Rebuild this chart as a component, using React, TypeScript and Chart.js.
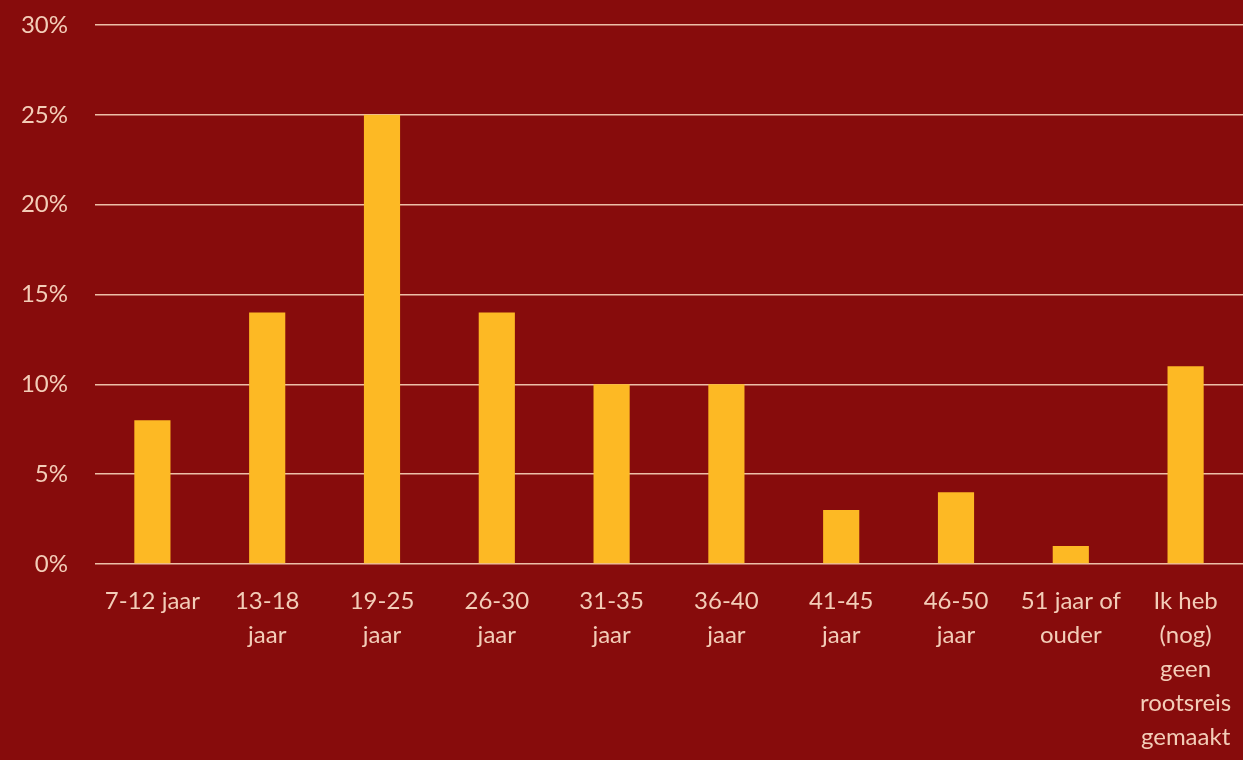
import React, { useEffect, useRef } from "react";
import { Chart, registerables } from "chart.js";

Chart.register(...registerables);

const categories: (string | string[])[] = [
  "7-12 jaar",
  ["13-18", "jaar"],
  ["19-25", "jaar"],
  ["26-30", "jaar"],
  ["31-35", "jaar"],
  ["36-40", "jaar"],
  ["41-45", "jaar"],
  ["46-50", "jaar"],
  ["51 jaar of", "ouder"],
  ["Ik heb", "(nog)", "geen", "rootsreis", "gemaakt"],
];
const values: number[] = [8, 14, 25, 14, 10, 10, 3, 4, 1, 11];
const yTicks: number[] = [0, 5, 10, 15, 20, 25, 30];

const BG = "#870C0C";
const BAR = "#FDB924";
const GRID = "#EDBFA8";
const TEXT = "#F3CDB8";
const FONT = "Lato, 'Open Sans', sans-serif";

export default function App() {
  const ref = useRef<HTMLCanvasElement | null>(null);
  useEffect(() => {
    document.body.style.margin = "0";
    document.body.style.background = BG;
    const ctx = ref.current!;
    const chart = new Chart(ctx, {
      type: "bar",
      data: {
        labels: categories,
        datasets: [
          {
            data: values,
            backgroundColor: BAR,
            borderWidth: 0,
            categoryPercentage: 1,
            barPercentage: 0.315,
          },
        ],
      },
      options: {
        responsive: false,
        animation: false,
        devicePixelRatio: 1,
        layout: { padding: { top: 25, left: 0, right: 0, bottom: 0 } },
        plugins: { legend: { display: false }, tooltip: { enabled: false } },
        scales: {
          x: {
            grid: { display: false, drawTicks: false },
            border: { display: false },
            ticks: {
              color: TEXT,
              font: { family: FONT, size: 24, lineHeight: "34px" },
              padding: 20,
              maxRotation: 0,
              autoSkip: false,
            },
            afterFit: (s: any) => {
              s.height = 196;
              s.paddingLeft = 0;
              s.paddingRight = 0;
            },
          },
          y: {
            min: 0,
            max: 30,
            afterBuildTicks: (s: any) => {
              s.ticks = yTicks.map((v) => ({ value: v }));
            },
            grid: { color: GRID, lineWidth: 1.5, drawTicks: false },
            border: { display: false },
            ticks: {
              color: TEXT,
              font: { family: FONT, size: 24 },
              padding: 27,
              callback: (v: any) => v + "%",
            },
            afterFit: (s: any) => {
              s.width = 95;
              s.paddingTop = 0;
              s.paddingBottom = 0;
            },
          },
        },
      },
    });
    return () => chart.destroy();
  }, []);
  return (
    <div style={{ width: 1243, height: 760, background: BG }}>
      <canvas ref={ref} width={1243} height={760} style={{ display: "block" }} />
    </div>
  );
}
